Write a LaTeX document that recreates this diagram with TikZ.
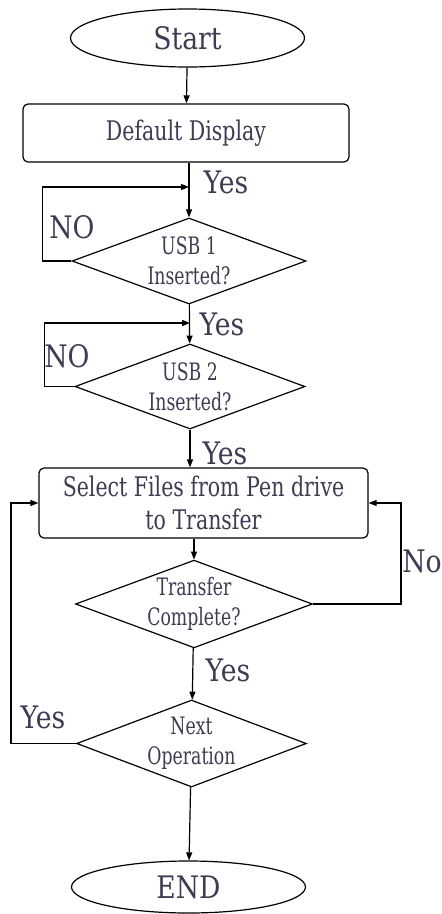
\documentclass[tikz,border=0pt]{standalone}
\usepackage{fontspec}
\setmainfont{DejaVu Serif}[FakeStretch=0.86]
\newfontfamily\boxfont{DejaVu Serif}[FakeStretch=0.76]
\newfontfamily\testfont{DejaVu Serif}[FakeStretch=0.72]
\usetikzlibrary{shapes.geometric,arrows.meta}
\definecolor{txtgray}{RGB}{60,60,82}
\begin{document}
\begin{tikzpicture}[x=1pt,y=-1pt,line width=1.2pt,
  >={Triangle[length=8pt,width=6pt]},
  term/.style={ellipse,draw,minimum width=234pt,minimum height=58pt,inner sep=0pt,
    font=\fontsize{31}{31}\selectfont,text=txtgray},
  proc/.style={rectangle,rounded corners=5pt,draw,inner sep=0pt,align=center,
    font=\boxfont\fontsize{27}{33}\selectfont,text=txtgray},
  test/.style={diamond,draw,aspect=2.7,inner sep=0pt,align=center,
    font=\testfont\fontsize{24}{30}\selectfont,text=txtgray},
  lbl/.style={inner sep=0pt,font=\fontsize{31}{31}\selectfont,text=txtgray}]
\useasboundingbox (0,0) rectangle (442,914);
% blocks
\node[term] (start) at (187.5,38) {Start};
\node[proc,minimum width=326pt,minimum height=58pt] (disp) at (186,133) {Default Display};
\node[test,minimum width=234pt,minimum height=86pt] (usb1) at (189,261) {USB 1\\Inserted?};
\node[test,minimum width=230pt,minimum height=85pt] (usb2) at (190,386.5) {USB 2\\Inserted?};
\node[proc,minimum width=329pt,minimum height=70pt] (sel) at (203.5,503) {Select Files from Pen drive\\to Transfer};
\node[test,minimum width=228pt,minimum height=84pt] (done) at (194,604) {Transfer\\Complete?};
\node[test,minimum width=227pt,minimum height=87pt] (next) at (191.5,743.5) {Next\\Operation};
\node[term,minimum height=52pt] (stop) at (188.5,887) {END};
\coordinate (j1) at (189,187);
\coordinate (j2) at (190,323);
% main flow
\draw[->] (start) -- (disp);
\draw[->] (usb1.north |- disp.south) -- (usb1.north);
\draw[->] (usb1) -- (usb2);
\draw[->] (usb2.south) -- (usb2.south |- sel.north);
\draw[->] (done.north |- sel.south) -- (done.north);
\draw[->] (done) -- (next);
\draw[->] (next) -- (stop);
% loops
\draw[->] (usb1.west) -- ++(-29,0) |- (j1);
\draw[->] (usb2.west) -- ++(-30,0) |- (j2);
\draw[->] (done.east) -- ++(88,0) |- (sel.east);
\draw[->] (next.west) -- ++(-65,0) |- (sel.west);
% labels
\node[lbl] (yes1) at (226,182) {Yes};
\node[lbl] (no1) at (72,227) {NO};
\node[lbl] (yes2) at (222,324) {Yes};
\node[lbl] (no2) at (67,356) {NO};
\node[lbl] (yes3) at (225,453) {Yes};
\node[lbl] (no3) at (422,561) {No};
\node[lbl] (yes4) at (228,670) {Yes};
\node[lbl] (yes5) at (43,717) {Yes};
\end{tikzpicture}
\end{document}
